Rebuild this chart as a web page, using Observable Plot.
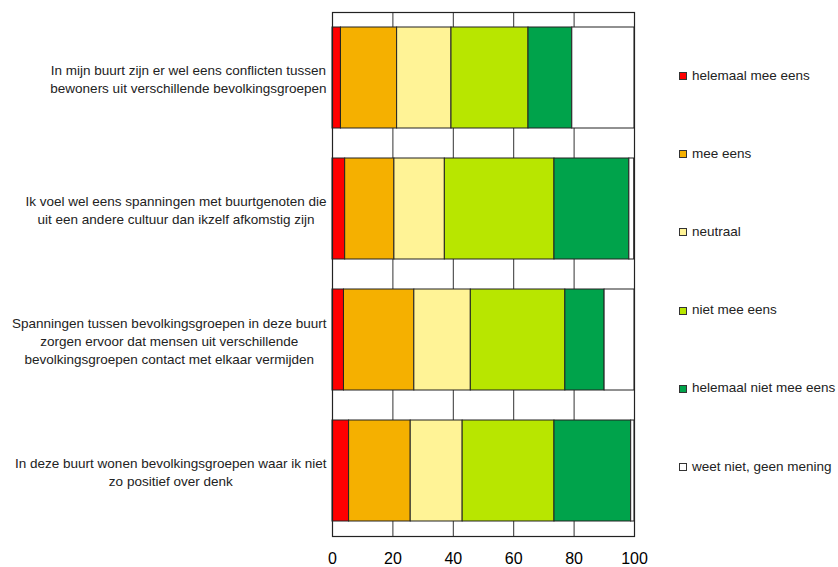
<!DOCTYPE html>
<html>
<head>
<meta charset="utf-8">
<script src="https://cdn.jsdelivr.net/npm/d3@7"></script>
<script src="https://cdn.jsdelivr.net/npm/@observablehq/plot@0.6"></script>
<style>
  body { margin: 0; background: #fff; font-family: "Liberation Sans", Arial, sans-serif; }
  #wrap { display: flex; width: 838px; height: 567px; }
  #legend { width: 168px; padding-top: 36px; padding-left: 9px; box-sizing: border-box; }
  .item { height: 78.2px; display: flex; align-items: center; font-size: 13.5px; color: #222; white-space: nowrap; }
  .sw { width: 6px; height: 6px; border: 1px solid #333; margin-right: 5px; margin-top: 2px; flex: none; }
</style>
</head>
<body>
<div id="wrap"><div id="chart"></div><div id="legend"></div></div>
<script>
const items = [
  "In mijn buurt zijn er wel eens conflicten tussen\nbewoners uit verschillende bevolkingsgroepen",
  "Ik voel wel eens spanningen met buurtgenoten die\nuit een andere cultuur dan ikzelf afkomstig zijn",
  "Spanningen tussen bevolkingsgroepen in deze buurt\nzorgen ervoor dat mensen uit verschillende\nbevolkingsgroepen contact met elkaar vermijden",
  "In deze buurt wonen bevolkingsgroepen waar ik niet\nzo positief over denk"
];
const categories = ["helemaal mee eens", "mee eens", "neutraal", "niet mee eens", "helemaal niet mee eens", "weet niet, geen mening"];
const colors = ["#ff0000", "#f5b000", "#fff396", "#b8e600", "#00a34b", "#ffffff"];
const helemaalMeeEens = [2.8, 4.2, 3.8, 5.5];
const meeEens = [18.6, 16.3, 23.3, 20.4];
const neutraal = [18.0, 16.7, 18.7, 17.2];
const nietMeeEens = [25.5, 36.3, 31.3, 30.4];
const helemaalNietMeeEens = [14.5, 24.8, 13.0, 25.4];
const weetNiet = [20.6, 1.6, 9.9, 1.1];
const xTicks = [0, 20, 40, 60, 80, 100];
const gridTicks = [20, 40, 60, 80];

const series = [helemaalMeeEens, meeEens, neutraal, nietMeeEens, helemaalNietMeeEens, weetNiet];
const data = [];
categories.forEach((c, i) => items.forEach((it, j) => data.push({item: it, cat: c, value: series[i][j]})));

const fontSize = 13.5;
const ctx = document.createElement("canvas").getContext("2d");
ctx.font = `${fontSize}px "Liberation Sans"`;
const labelMarks = items.map(it => {
  const w = d3.max(it.split("\n"), l => ctx.measureText(l).width);
  return Plot.text([it], {
    y: d => d, text: d => d, frameAnchor: "left", textAnchor: "middle",
    dx: -(6 + w / 2), lineHeight: 1.356, fontSize, fill: "#222"
  });
});

const chart = Plot.plot({
  width: 670, height: 567,
  marginLeft: 332, marginRight: 36, marginTop: 12, marginBottom: 31,
  style: {fontFamily: "Liberation Sans", background: "white"},
  x: {domain: [0, 100], axis: null},
  y: {domain: items, paddingInner: 0.23, paddingOuter: 0.115, axis: null},
  color: {domain: categories, range: colors},
  marks: [
    Plot.ruleX(gridTicks, {stroke: "#333", strokeWidth: 1}),
    Plot.barX(data, {x: "value", y: "item", fill: "cat", stroke: "#222", strokeWidth: 1}),
    Plot.frame({stroke: "#222", strokeWidth: 1.2}),
    Plot.axisX({ticks: xTicks, tickSize: 0, tickPadding: 16, fontSize: 16, fill: "black", label: null}),
    ...labelMarks
  ]
});
document.getElementById("chart").appendChild(chart);

const legend = d3.select("#legend");
categories.forEach((c, i) => {
  const row = legend.append("div").attr("class", "item");
  row.append("div").attr("class", "sw").style("background", colors[i]);
  row.append("span").text(c);
});
</script>
</body>
</html>
